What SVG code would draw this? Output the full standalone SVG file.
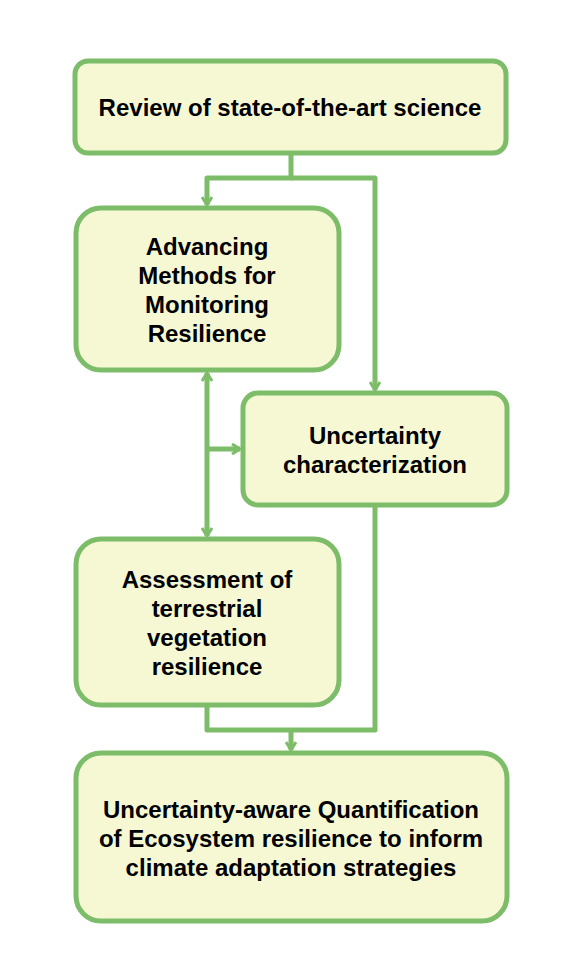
<svg xmlns="http://www.w3.org/2000/svg" width="568" height="976" viewBox="0 0 568 976">
<style>
.box{fill:#f6f8d4;stroke:#7dbd69;stroke-width:5}
.t{font-family:"Liberation Sans",Arial,sans-serif;font-weight:bold;font-size:24px;fill:#000;text-anchor:middle}
.c{fill:none;stroke:#7dbd69;stroke-width:5;stroke-linejoin:round}
</style>
<defs>
<marker id="ah" viewBox="0 0 12 12" refX="10" refY="6" markerWidth="12" markerHeight="12" markerUnits="userSpaceOnUse" orient="auto-start-reverse">
<path d="M2,1 L10,6 L2,11" fill="none" stroke="#7dbd69" stroke-width="3"/>
</marker>
</defs>
<rect width="568" height="976" fill="#fff"/>
<g id="connectors">
<path class="c" d="M291,153 V178 H207 V205" marker-end="url(#ah)"/>
<path class="c" d="M291,178 H375 V390" marker-end="url(#ah)"/>
<path class="c" d="M207,373 V536" marker-start="url(#ah)" marker-end="url(#ah)"/>
<path class="c" d="M207,449 H240" marker-end="url(#ah)"/>
<path class="c" d="M375,505 V730 H207 V705"/>
<path class="c" d="M291,730 V750" marker-end="url(#ah)"/>
</g>
<g id="n1"><rect class="box" x="75" y="61" width="431" height="92" rx="13"/>
<text class="t" x="290" y="116">Review of state-of-the-art science</text></g>
<g id="n2"><rect class="box" x="76" y="208" width="263" height="162" rx="25"/>
<text class="t" x="207" y="255">Advancing</text>
<text class="t" x="207" y="284">Methods for</text>
<text class="t" x="207" y="313">Monitoring</text>
<text class="t" x="207" y="342">Resilience</text></g>
<g id="n3"><rect class="box" x="243" y="393" width="264" height="112" rx="15"/>
<text class="t" x="375" y="444">Uncertainty</text>
<text class="t" x="375" y="473">characterization</text></g>
<g id="n4"><rect class="box" x="76" y="539" width="263" height="166" rx="25"/>
<text class="t" x="207" y="588">Assessment of</text>
<text class="t" x="207" y="617">terrestrial</text>
<text class="t" x="207" y="646">vegetation</text>
<text class="t" x="207" y="675">resilience</text></g>
<g id="n5"><rect class="box" x="76" y="753" width="431" height="168" rx="25"/>
<text class="t" x="291" y="818">Uncertainty-aware Quantification</text>
<text class="t" x="291" y="847">of Ecosystem resilience to inform</text>
<text class="t" x="291" y="876">climate adaptation strategies</text></g>
</svg>
